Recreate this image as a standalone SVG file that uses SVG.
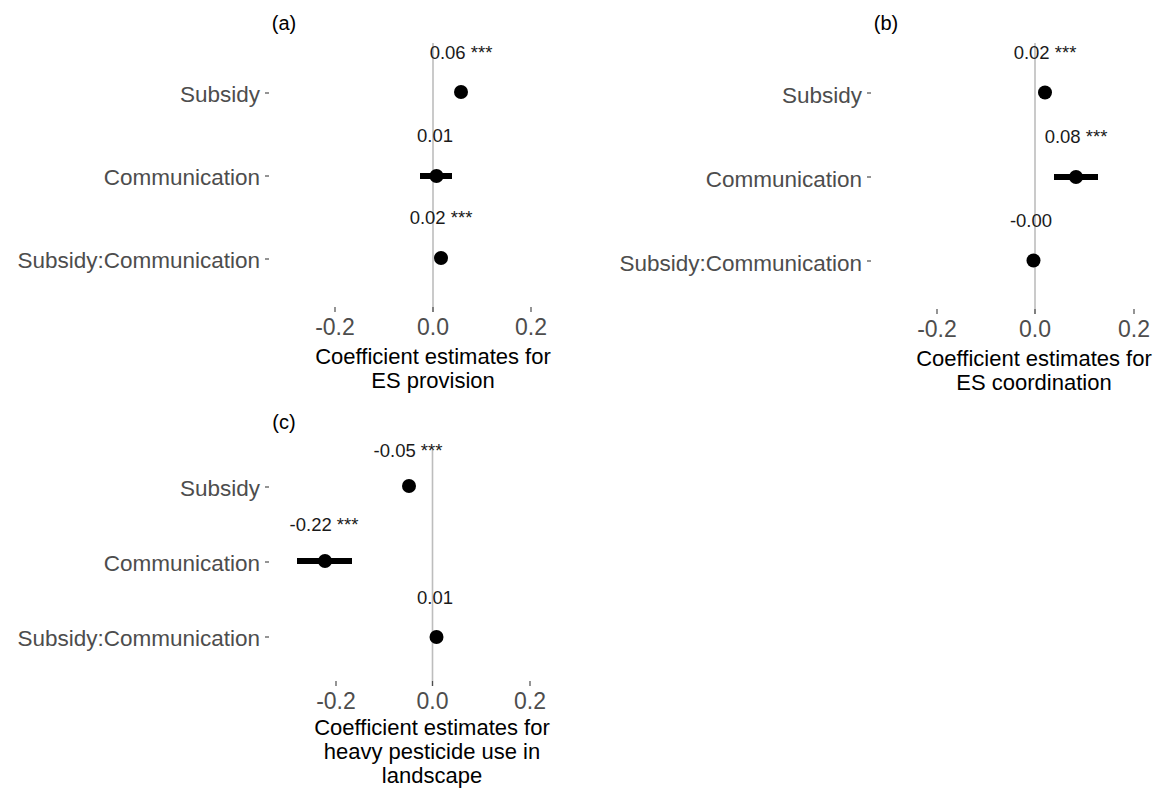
<svg xmlns="http://www.w3.org/2000/svg" width="1170" height="791" viewBox="0 0 1170 791">
<style>
text{font-family:"Liberation Sans",Arial,sans-serif}
.ylab{font-size:22.5px;fill:#4d4d4d;text-anchor:end}
.xlab{font-size:23px;fill:#4d4d4d;text-anchor:middle}
.ttl{font-size:22px;fill:#000;text-anchor:middle}
.ptl{font-size:20px;fill:#000;text-anchor:middle}
.val{font-size:18.5px;fill:#1a1a1a;text-anchor:middle}
.zero{stroke:#bdbdbd;stroke-width:1.6}
.tick{stroke:#4d4d4d;stroke-width:1.2}
.bar{stroke:#000;stroke-width:6}
.dot{fill:#000}
</style>
<rect width="1170" height="791" fill="#fff"/>

<g id="panel-a">
  <text class="ptl" x="284" y="30">(a)</text>
  <line class="zero" x1="433" y1="43" x2="433" y2="312"/>
  <g id="a-yaxis">
    <text class="ylab" x="260" y="102">Subsidy</text>
    <text class="ylab" x="260" y="185">Communication</text>
    <text class="ylab" x="260" y="268">Subsidy:Communication</text>
    <line class="tick" x1="265" y1="93" x2="269" y2="93"/>
    <line class="tick" x1="265" y1="176" x2="269" y2="176"/>
    <line class="tick" x1="265" y1="259" x2="269" y2="259"/>
  </g>
  <g id="a-xaxis">
    <line class="tick" x1="335" y1="307" x2="335" y2="312"/>
    <line class="tick" x1="433" y1="307" x2="433" y2="312"/>
    <line class="tick" x1="531" y1="307" x2="531" y2="312"/>
    <text class="xlab" x="335" y="335">-0.2</text>
    <text class="xlab" x="433" y="335">0.0</text>
    <text class="xlab" x="531" y="335">0.2</text>
    <text class="ttl" x="433" y="364">Coefficient estimates for</text>
    <text class="ttl" x="433" y="388">ES provision</text>
  </g>
  <g id="a-subsidy"><circle class="dot" cx="461" cy="92" r="7"/><text class="val" x="461" y="59">0.06 ***</text></g>
  <g id="a-communication"><line class="bar" x1="420" y1="176" x2="452" y2="176"/><circle class="dot" cx="436.5" cy="176" r="7"/><text class="val" x="435" y="142">0.01</text></g>
  <g id="a-interaction"><circle class="dot" cx="441" cy="258" r="7"/><text class="val" x="441" y="224">0.02 ***</text></g>
</g>

<g id="panel-b">
  <text class="ptl" x="886" y="30">(b)</text>
  <line class="zero" x1="1035" y1="43" x2="1035" y2="314"/>
  <g id="b-yaxis">
    <text class="ylab" x="862" y="103">Subsidy</text>
    <text class="ylab" x="862" y="187">Communication</text>
    <text class="ylab" x="862" y="271">Subsidy:Communication</text>
    <line class="tick" x1="867" y1="93" x2="871" y2="93"/>
    <line class="tick" x1="867" y1="177" x2="871" y2="177"/>
    <line class="tick" x1="867" y1="261" x2="871" y2="261"/>
  </g>
  <g id="b-xaxis">
    <line class="tick" x1="937" y1="309" x2="937" y2="314"/>
    <line class="tick" x1="1035" y1="309" x2="1035" y2="314"/>
    <line class="tick" x1="1134" y1="309" x2="1134" y2="314"/>
    <text class="xlab" x="937" y="337">-0.2</text>
    <text class="xlab" x="1035" y="337">0.0</text>
    <text class="xlab" x="1134" y="337">0.2</text>
    <text class="ttl" x="1034" y="366">Coefficient estimates for</text>
    <text class="ttl" x="1034" y="390">ES coordination</text>
  </g>
  <g id="b-subsidy"><circle class="dot" cx="1045" cy="92.5" r="7"/><text class="val" x="1045" y="59">0.02 ***</text></g>
  <g id="b-communication"><line class="bar" x1="1054" y1="177" x2="1098" y2="177"/><circle class="dot" cx="1076" cy="177" r="7"/><text class="val" x="1076" y="143">0.08 ***</text></g>
  <g id="b-interaction"><circle class="dot" cx="1033.5" cy="260.5" r="7"/><text class="val" x="1031" y="227">-0.00</text></g>
</g>

<g id="panel-c">
  <text class="ptl" x="284" y="429">(c)</text>
  <line class="zero" x1="432.5" y1="450" x2="432.5" y2="686"/>
  <g id="c-yaxis">
    <text class="ylab" x="260" y="496">Subsidy</text>
    <text class="ylab" x="260" y="571">Communication</text>
    <text class="ylab" x="260" y="646">Subsidy:Communication</text>
    <line class="tick" x1="265" y1="487" x2="269" y2="487"/>
    <line class="tick" x1="265" y1="562" x2="269" y2="562"/>
    <line class="tick" x1="265" y1="637" x2="269" y2="637"/>
  </g>
  <g id="c-xaxis">
    <line class="tick" x1="336" y1="681" x2="336" y2="686"/>
    <line class="tick" x1="432.5" y1="681" x2="432.5" y2="686"/>
    <line class="tick" x1="530" y1="681" x2="530" y2="686"/>
    <text class="xlab" x="336" y="709">-0.2</text>
    <text class="xlab" x="432.5" y="709">0.0</text>
    <text class="xlab" x="530" y="709">0.2</text>
    <text class="ttl" x="432" y="735">Coefficient estimates for</text>
    <text class="ttl" x="432" y="759">heavy pesticide use in</text>
    <text class="ttl" x="432" y="783">landscape</text>
  </g>
  <g id="c-subsidy"><circle class="dot" cx="409" cy="486" r="7"/><text class="val" x="408" y="457">-0.05 ***</text></g>
  <g id="c-communication"><line class="bar" x1="297" y1="561" x2="352" y2="561"/><circle class="dot" cx="325" cy="561" r="7"/><text class="val" x="324" y="531">-0.22 ***</text></g>
  <g id="c-interaction"><circle class="dot" cx="436.5" cy="637" r="7"/><text class="val" x="435" y="604">0.01</text></g>
</g>
</svg>
